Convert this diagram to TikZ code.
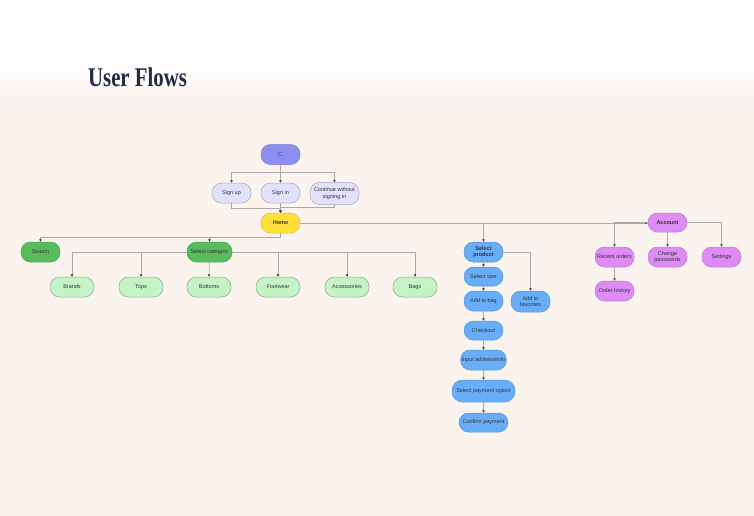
\documentclass[tikz,border=0pt]{standalone}
\usepackage{fontspec}
\setmainfont{Liberation Sans}
\newfontfamily\titlefont{Liberation Serif}
\usepackage{xcolor}
\usepackage{tikz}
\usetikzlibrary{arrows.meta,positioning,backgrounds,calc}
\definecolor{ufInk}{HTML}{1F2A44}
\definecolor{ufText}{HTML}{333333}
\definecolor{ufLine}{HTML}{A9A9A9}
\definecolor{ufTip}{HTML}{3A3A3A}
\definecolor{ufCream}{HTML}{FAF3EE}
\definecolor{ufStart}{HTML}{8E8EF2}
\definecolor{ufAuth}{HTML}{E1E1FB}
\definecolor{ufHome}{HTML}{FFE03A}
\definecolor{ufGreen}{HTML}{57BD5C}
\definecolor{ufLightGreen}{HTML}{C4F3C6}
\definecolor{ufBlue}{HTML}{68ADF7}
\definecolor{ufPurple}{HTML}{DC8CF4}
\tikzset{
  % Base pill node
  flow/.style={rectangle,rounded corners=9.5pt,
    minimum width=39pt,minimum height=20pt,inner sep=1pt,
    align=center,font=\fontsize{5.5}{6.6}\selectfont,
    text=ufText,line width=0.5pt},
  % Entry node (periwinkle)
  startbox/.style={flow,fill=ufStart,draw=ufStart!85!black},
  % Sign-in choices (lavender)
  authbox/.style={flow,fill=ufAuth,draw=ufAuth!75!black},
  % Home (yellow)
  homebox/.style={flow,fill=ufHome,draw=ufHome!85!black,font=\fontsize{5.5}{6.6}\selectfont\bfseries},
  % Browse (green)
  gbox/.style={flow,fill=ufGreen,draw=ufGreen!85!black},
  % Category items (light green)
  catbox/.style={flow,minimum width=44pt,fill=ufLightGreen,draw=ufLightGreen!70!black},
  % Checkout path (blue)
  bbox/.style={flow,fill=ufBlue,draw=ufBlue!85!black},
  % Account (purple)
  abox/.style={flow,fill=ufPurple,draw=ufPurple!85!black},
  % Arrows
  arr/.style={-{Triangle[length=2.4pt,width=2.4pt,color=ufTip]},line width=0.6pt,color=ufLine},
}

\begin{document}
\begin{tikzpicture}[x=1pt,y=-1pt]
  \useasboundingbox (0,0) rectangle (754,516);
  %% --- BACKGROUND ---
  \fill[ufCream] (0,0) rectangle (754,516);
  \fill[white] (0,0) rectangle (754,60);
  \shade[top color=white,bottom color=ufCream] (0,60) rectangle (754,100);

  \node[anchor=base west,inner sep=0,xscale=0.77,transform shape,
    font=\titlefont\bfseries\fontsize{27}{27}\selectfont,text=ufInk] (title) at (88,87) {User Flows};

  %% --- SIGN IN ---
  \node[startbox] (start) at (280.5,154.5) {C.};
  \node[authbox] (signup) at (231.5,193) {Sign up};
  \node[authbox] (signin) at (280.5,193) {Sign in};
  \node[authbox,minimum width=49pt,minimum height=22pt] (guest) at (334.5,193.5)
    {Continue without\\signing in};
  \node[homebox] (home) at (280.5,223) {Home};

  \draw[arr] (start.south) -- ++(0,8) -| (signup.north);
  \draw[arr] (start) -- (signin);
  \draw[arr] (start.south) -- ++(0,8) -| (guest.north);
  \draw[arr] (signup.south) -- ++(0,5) -| (home.north);
  \draw[arr] (signin) -- (home);
  \draw[arr] (guest.south) -- ++(0,3) -| (home.north);

  %% --- BROWSE ---
  \node[gbox] (search) at (40.5,252) {Search};
  \node[gbox,minimum width=45pt] (selcat) at (209.5,252) {Select category};
  \node[catbox] (brands) at (72,287) {Brands};
  \node[catbox] (tops) at (141,287) {Tops};
  \node[catbox] (bottoms) at (209,287) {Bottoms};
  \node[catbox] (footwear) at (278,287) {Footwear};
  \node[catbox] (access) at (347,287) {Accessories};
  \node[catbox] (bags) at (415,287) {Bags};

  \draw[arr] (home.south) -- ++(0,4) -| (search.north);
  \draw[arr] (home.south) -- ++(0,4) -| (selcat.north);
  \draw[arr] (selcat.west) -| (brands.north);
  \draw[arr] (selcat.west) -| (tops.north);
  \draw[arr] (selcat.south) -- (bottoms.north);
  \draw[arr] (selcat.east) -| (footwear.north);
  \draw[arr] (selcat.east) -| (access.north);
  \draw[arr] (selcat.east) -| (bags.north);

  %% --- CHECKOUT ---
  \node[bbox,font=\fontsize{5.5}{6.6}\selectfont\bfseries] (selprod) at (483.5,252) {Select\\product};
  \node[bbox,minimum height=19pt] (size) at (483.5,276.5) {Select size};
  \node[bbox] (bag) at (483.5,301) {Add to bag};
  \node[bbox,minimum height=21pt] (fav) at (530.5,301.5) {Add to\\favorites};
  \node[bbox,minimum height=19pt] (checkout) at (483.5,330.5) {Checkout};
  \node[bbox,minimum width=45pt] (address) at (483.5,360) {Input address/info};
  \node[bbox,minimum width=63pt,minimum height=22pt,rounded corners=10.5pt] (payment) at (483.5,391)
    {Select payment option};
  \node[bbox,minimum width=49pt,minimum height=19pt] (confirm) at (483.5,422.5) {Confirm payment};

  \draw[arr] (home.east) -| (selprod.north);
  \draw[arr] (selprod) -- (size);
  \draw[arr] (selprod.east) -| (fav.north);
  \draw[arr] (size) -- (bag);
  \draw[arr] (bag) -- (checkout);
  \draw[arr] (checkout) -- (address);
  \draw[arr] (address) -- (payment);
  \draw[arr] (payment) -- (confirm);

  %% --- ACCOUNT ---
  \node[abox,font=\fontsize{5.5}{6.6}\selectfont\bfseries,minimum height=19pt] (account) at (667.5,222.5) {Account};
  \node[abox] (recent) at (614.5,257) {Recent orders};
  \node[abox] (passwd) at (667.5,257) {Change\\passwords};
  \node[abox] (settings) at (721.5,257) {Settings};
  \node[abox] (history) at (614.5,291) {Order history};

  \draw[arr] (home.east) -- (account.west |- home.east);
  \draw[arr] (account.west) -| (recent.north);
  \draw[arr] (account) -- (passwd);
  \draw[arr] (account.east) -| (settings.north);
  \draw[arr] (recent) -- (history);
\end{tikzpicture}
\end{document}
